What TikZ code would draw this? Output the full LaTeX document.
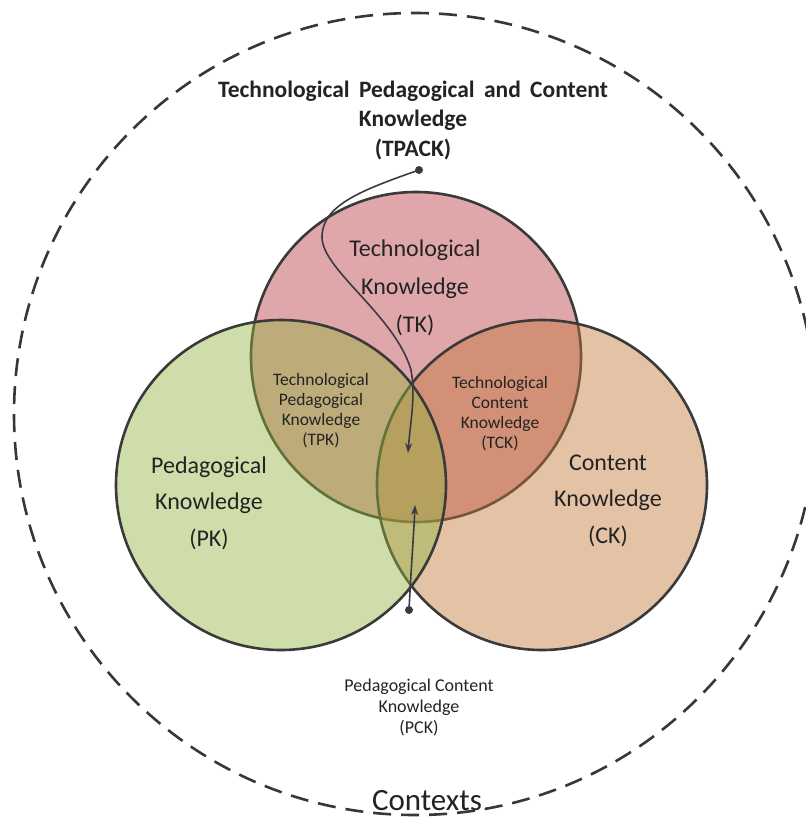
\documentclass[tikz,border=0pt]{standalone}
\usepackage{fontspec}
\setmainfont{Carlito}
\usetikzlibrary{arrows.meta}
\definecolor{tkfill}{RGB}{224,167,170}
\definecolor{ckfill}{RGB}{193,120,58}
\definecolor{pkfill}{RGB}{147,180,64}
\definecolor{edge}{RGB}{58,58,58}
\definecolor{txt}{RGB}{35,35,35}
\definecolor{arr}{RGB}{58,58,70}
\definecolor{ctxline}{RGB}{55,55,55}
\newcommand{\mylbl}[3]{\fontsize{#1}{#2}\selectfont\begin{tabular}[t]{@{}c@{}}#3\end{tabular}}
\begin{document}
\begin{tikzpicture}[x=1pt,y=-1pt,
  ring/.style={circle,draw=edge,line width=2.6pt,minimum size=330pt,inner sep=0pt},
  lab/.style={anchor=base,inner sep=0pt,text=txt},
  conn/.style={draw=arr,line width=1.6pt,-{Stealth[length=10pt,width=7pt]}},
  dot/.style={circle,fill=arr,inner sep=0pt,minimum size=8pt}]
\useasboundingbox (0,0) rectangle (806,823);
% contexts
\node[circle,draw=ctxline,line width=2.6pt,dash pattern=on 18pt off 10pt,minimum size=802pt,inner sep=0pt] (ctx) at (415,414) {};
% three knowledge circles
\node[ring,fill=tkfill] (tk) at (416,357) {};
\node[ring,fill=ckfill,fill opacity=0.45] (ck) at (542,485) {};
\node[ring,fill=pkfill,fill opacity=0.45] (pk) at (281,485) {};
% labels
\node[lab,font=\bfseries] (title) at (413,97) {\mylbl{23.5}{29.5}{Technological\hspace{4pt} Pedagogical\hspace{4pt} and\hspace{4pt} Content\\Knowledge\\(TPACK)}};
\node[lab] (tkl) at (415,256) {\mylbl{24}{38}{Technological\\Knowledge\\(TK)}};
\node[lab] (pkl) at (209,473) {\mylbl{24}{36.5}{Pedagogical\\Knowledge\\(PK)}};
\node[lab] (ckl) at (608,470) {\mylbl{24}{36.5}{Content\\Knowledge\\(CK)}};
\node[lab] (tpkl) at (321,385) {\mylbl{17.5}{20}{Technological\\Pedagogical\\Knowledge\\(TPK)}};
\node[lab] (tckl) at (500,388) {\mylbl{17.5}{20}{Technological\\Content\\Knowledge\\(TCK)}};
\node[lab] (pckl) at (419,691) {\mylbl{18}{21}{Pedagogical Content\\Knowledge\\(PCK)}};
\node[lab] (ctxl) at (427,810) {\mylbl{31}{31}{Contexts}};
% connectors
\node[dot] (d1) at (419,170) {};
\node[dot] (d2) at (409,610) {};
\coordinate (tip1) at (408,453);
\coordinate (tip2) at (415,505);
\draw[conn] (d1.center) .. controls (362,190) and (322,205) .. (322,237)
  .. controls (322,270) and (395,315) .. (411,370)
  .. controls (416,395) and (410,425) .. (tip1);
\draw[conn] (d2.center) .. controls (411,570) and (414,530) .. (tip2);
\end{tikzpicture}
\end{document}
